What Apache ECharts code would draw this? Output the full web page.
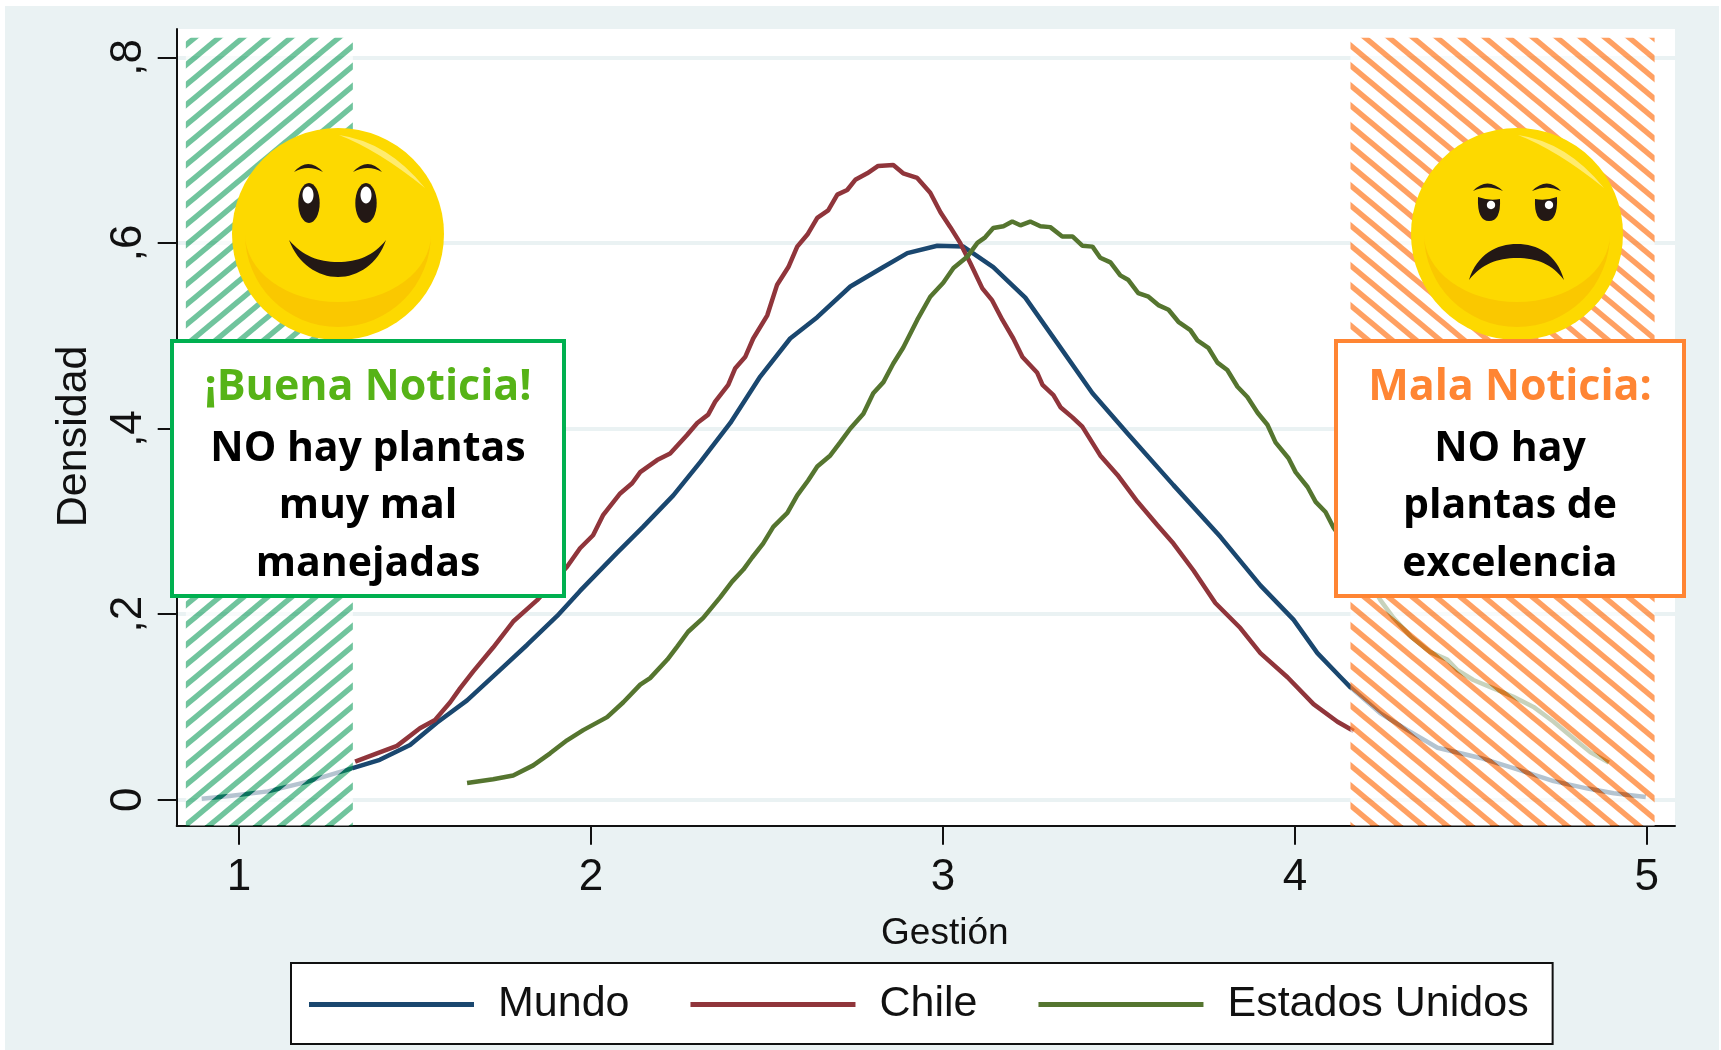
<!DOCTYPE html>
<html>
<head>
<meta charset="utf-8">
<title>Densidad de Gestión</title>
<script src="https://cdn.jsdelivr.net/npm/echarts@6/dist/echarts.min.js"></script>
<style>
  html, body { margin: 0; padding: 0; background: #fff; }
  #bg { position: absolute; left: 5px; top: 6px; width: 1714px; height: 1044px; background: #eaf2f3; }
  #chart { position: absolute; left: 0; top: 0; width: 1721px; height: 1050px; }
</style>
</head>
<body>
<div id="bg"></div>
<div id="chart"></div>
<script>
  // valores
  const xTicks = [1, 2, 3, 4, 5];
  const yTicks = [0, 0.2, 0.4, 0.6, 0.8];
  const yTickLabels = ['0', ',2', ',4', ',6', ',8'];
  const seriesNames = ['Mundo', 'Chile', 'Estados Unidos'];

  const mundoX = [0.894, 0.973, 1.082, 1.19, 1.323, 1.40, 1.486, 1.562, 1.648, 1.742, 1.819, 1.904, 1.969, 2.074, 2.148, 2.234, 2.311, 2.396, 2.481, 2.566, 2.643, 2.737, 2.831, 2.899, 2.984, 3.058, 3.143, 3.234, 3.325, 3.425, 3.524, 3.655, 3.789, 3.902, 3.996, 4.064, 4.130, 4.158, 4.243, 4.320, 4.405, 4.527, 4.621, 4.735, 4.832, 4.906, 4.997];
  const mundoY = [0.001, 0.004, 0.009, 0.019, 0.034, 0.043, 0.059, 0.083, 0.107, 0.140, 0.167, 0.198, 0.225, 0.266, 0.294, 0.328, 0.364, 0.406, 0.456, 0.497, 0.520, 0.553, 0.574, 0.589, 0.597, 0.596, 0.574, 0.541, 0.492, 0.438, 0.395, 0.339, 0.283, 0.231, 0.194, 0.158, 0.132, 0.121, 0.093, 0.075, 0.056, 0.045, 0.034, 0.020, 0.012, 0.007, 0.003];

  const chileX = [1.330, 1.392, 1.449, 1.514, 1.557, 1.600, 1.628, 1.665, 1.722, 1.779, 1.847, 1.932, 1.969, 2.006, 2.035, 2.083, 2.117, 2.140, 2.188, 2.225, 2.273, 2.302, 2.333, 2.353, 2.390, 2.410, 2.438, 2.461, 2.501, 2.529, 2.561, 2.586, 2.615, 2.643, 2.674, 2.700, 2.728, 2.751, 2.785, 2.816, 2.859, 2.887, 2.927, 2.964, 2.993, 3.021, 3.049, 3.078, 3.112, 3.140, 3.169, 3.200, 3.226, 3.268, 3.283, 3.314, 3.334, 3.368, 3.396, 3.447, 3.496, 3.553, 3.609, 3.655, 3.712, 3.774, 3.845, 3.902, 3.979, 4.053, 4.121, 4.167];
  const chileY = [0.041, 0.050, 0.058, 0.077, 0.086, 0.105, 0.120, 0.138, 0.164, 0.192, 0.215, 0.251, 0.271, 0.285, 0.307, 0.330, 0.341, 0.353, 0.366, 0.373, 0.393, 0.406, 0.415, 0.429, 0.447, 0.465, 0.477, 0.497, 0.522, 0.555, 0.574, 0.596, 0.609, 0.627, 0.635, 0.652, 0.657, 0.668, 0.675, 0.683, 0.684, 0.675, 0.670, 0.654, 0.633, 0.617, 0.600, 0.578, 0.551, 0.538, 0.517, 0.497, 0.477, 0.460, 0.447, 0.436, 0.423, 0.412, 0.402, 0.371, 0.350, 0.321, 0.296, 0.276, 0.247, 0.212, 0.185, 0.158, 0.132, 0.103, 0.084, 0.074];

  const usaX = [1.648, 1.722, 1.779, 1.836, 1.884, 1.932, 1.978, 2.046, 2.092, 2.140, 2.168, 2.217, 2.245, 2.276, 2.319, 2.367, 2.401, 2.433, 2.458, 2.489, 2.518, 2.558, 2.586, 2.617, 2.643, 2.680, 2.708, 2.737, 2.774, 2.802, 2.831, 2.859, 2.887, 2.927, 2.964, 3.001, 3.030, 3.069, 3.098, 3.120, 3.143, 3.172, 3.197, 3.220, 3.248, 3.277, 3.305, 3.339, 3.368, 3.396, 3.425, 3.447, 3.476, 3.504, 3.527, 3.555, 3.584, 3.612, 3.641, 3.669, 3.703, 3.723, 3.754, 3.780, 3.808, 3.837, 3.865, 3.894, 3.922, 3.945, 3.982, 4.002, 4.036, 4.059, 4.087, 4.110, 4.186, 4.243, 4.280, 4.329, 4.385, 4.433, 4.461, 4.507, 4.564, 4.621, 4.678, 4.735, 4.792, 4.840, 4.892];
  const usaY = [0.018, 0.022, 0.026, 0.037, 0.050, 0.064, 0.075, 0.089, 0.105, 0.124, 0.131, 0.151, 0.165, 0.181, 0.196, 0.218, 0.235, 0.248, 0.261, 0.276, 0.294, 0.309, 0.328, 0.344, 0.359, 0.371, 0.385, 0.400, 0.416, 0.438, 0.450, 0.470, 0.487, 0.517, 0.542, 0.557, 0.573, 0.585, 0.600, 0.606, 0.616, 0.618, 0.623, 0.619, 0.623, 0.618, 0.617, 0.607, 0.607, 0.597, 0.596, 0.584, 0.579, 0.565, 0.560, 0.546, 0.542, 0.533, 0.528, 0.515, 0.506, 0.495, 0.487, 0.471, 0.463, 0.445, 0.434, 0.417, 0.404, 0.385, 0.368, 0.353, 0.337, 0.321, 0.310, 0.293, 0.253, 0.215, 0.196, 0.176, 0.159, 0.151, 0.140, 0.129, 0.120, 0.111, 0.100, 0.084, 0.066, 0.051, 0.040];

  // bandas: [x0, x1, y0, y1]
  const bandBuena = [0.849, 1.3235, -0.028, 0.821];
  const bandMala = [4.158, 5.022, -0.028, 0.821];

  const font = '"Liberation Sans", Arial, sans-serif';
  const boxFont = '"Open Sans", Lato, sans-serif';
  const navy = '#1a476f', maroon = '#90353b', green = '#55752f';

  function zip (xs, ys) {
    return xs.map((x, i) => [x, ys[i]]);
  }

  // tile del rayado: fondo blanco translucido y raya recortada encima
  function hatch (color, rising) {
    const w = 24, h = 20, stripe = 5.5;
    const c = document.createElement('canvas');
    c.width = w; c.height = h;
    const g = c.getContext('2d');
    g.fillStyle = 'rgba(255,255,255,0.68)';
    g.fillRect(0, 0, w, h);
    const draw = () => {
      for (let k = -1; k <= 1; k++) {
        g.beginPath();
        if (rising) {
          g.moveTo(k * w - w, 2 * h);
          g.lineTo(k * w + 2 * w, -h);
        } else {
          g.moveTo(k * w - w, -h);
          g.lineTo(k * w + 2 * w, 2 * h);
        }
        g.stroke();
      }
    };
    g.lineWidth = stripe;
    g.globalCompositeOperation = 'destination-out';
    g.strokeStyle = '#000';
    draw();
    g.globalCompositeOperation = 'source-over';
    g.strokeStyle = color;
    draw();
    return c;
  }
  const greenHatch = hatch('rgba(0,150,80,0.56)', true);
  const orangeHatch = hatch('rgba(255,125,40,0.73)', false);

  function bandSeries (band, tile) {
    return {
      type: 'custom',
      silent: true,
      z: 40,
      clip: false,
      data: [band],
      encode: { x: [0, 1], y: [2, 3] },
      renderItem: (params, api) => {
        const a = api.coord([api.value(0), api.value(3)]);
        const b = api.coord([api.value(1), api.value(2)]);
        return {
          type: 'rect',
          shape: { x: a[0], y: a[1], width: b[0] - a[0], height: b[1] - a[1] },
          style: { fill: { image: tile, repeat: 'repeat' } }
        };
      }
    };
  }

  function pathEl (d, fill) {
    return { type: 'path', shape: { pathData: d }, style: { fill: fill } };
  }
  function ellipseEl (cx, cy, rx, ry, fill) {
    return { type: 'ellipse', shape: { cx: cx, cy: cy, rx: rx, ry: ry }, style: { fill: fill } };
  }

  function faceBase () {
    return [
      { type: 'circle', shape: { cx: 0, cy: 0, r: 106 }, style: { fill: '#fdd900' } },
      pathEl('M-93,0 A93,93 0 0 0 93,0 A93,68 0 0 1 -93,0 Z', '#fac800'),
      pathEl('M1,-99 Q50,-92 87,-46 Q40,-84 1,-99 Z', '#ffec6e')
    ];
  }
  const ink = '#231815';
  const smileParts = faceBase().concat([
    ellipseEl(-29, -31, 10.7, 20, ink),
    ellipseEl(28, -31, 10.7, 20, ink),
    ellipseEl(-30, -39, 5.5, 8.5, '#fff'),
    ellipseEl(28, -39, 5.5, 8.5, '#fff'),
    pathEl('M-44,-62 Q-30,-78 -15,-62 Q-30,-70 -44,-62 Z', ink),
    pathEl('M15,-62 Q30,-78 44,-62 Q30,-70 15,-62 Z', ink),
    pathEl('M-49,6 C-40,30 -20,43 0,43 C20,43 40,30 48,6 C35,22 20,28 0,28 C-20,28 -35,22 -49,6 Z', ink)
  ]);
  const sadParts = faceBase().concat([
    pathEl('M-39,-37 Q-28,-33 -17,-35 Q-16,-13 -28,-13 Q-40,-13 -39,-37 Z', ink),
    pathEl('M18,-35 Q29,-33 40,-37 Q41,-13 29,-13 Q17,-13 18,-35 Z', ink),
    ellipseEl(-26, -29, 4.2, 4.2, '#fff'),
    ellipseEl(32, -29, 4.2, 4.2, '#fff'),
    pathEl('M-44,-43 Q-30,-58 -14,-43 Q-30,-50 -44,-43 Z', ink),
    pathEl('M15,-43 Q30,-58 44,-43 Q30,-50 15,-43 Z', ink),
    pathEl('M-48,46 C-40,20 -20,10 0,10 C20,10 40,20 47,46 C35,30 20,24 0,24 C-20,24 -35,30 -48,46 Z', ink)
  ]);

  function faceSeries (cx, cy, parts) {
    return {
      type: 'custom',
      coordinateSystem: 'none',
      silent: true,
      z: 50,
      data: [[0]],
      renderItem: () => ({ type: 'group', x: cx, y: cy, children: parts })
    };
  }

  function boxText (cx, middle, text, color, size) {
    return {
      type: 'text',
      z: 101,
      x: cx,
      y: middle,
      style: {
        text: text,
        fill: color,
        font: '700 ' + size + 'px ' + boxFont,
        textAlign: 'center',
        textVerticalAlign: 'middle'
      }
    };
  }

  function newsBox (x, w, cx, color, titleColor, lines) {
    const rows = [388, 449, 506, 564];
    return [
      {
        type: 'rect',
        z: 100,
        shape: { x: x, y: 341, width: w, height: 255 },
        style: { fill: '#fff', stroke: color, lineWidth: 4 }
      }
    ].concat(lines.map((t, i) => boxText(cx, rows[i], t, i === 0 ? titleColor : '#000', i === 0 ? 43 : 41)));
  }

  const lineDefaults = {
    type: 'line',
    showSymbol: false,
    symbol: 'none',
    smooth: false,
    z: 10
  };

  const option = {
    animation: false,
    grid: {
      left: 176.7,
      right: 46,
      top: 29,
      bottom: 224.3,
      show: true,
      backgroundColor: '#fff',
      borderWidth: 0
    },
    xAxis: {
      type: 'value',
      min: 0.823,
      max: 5.08,
      name: 'Gestión',
      nameLocation: 'middle',
      nameGap: 90,
      nameMoveOverlap: false,
      nameTextStyle: { color: '#111', fontFamily: font, fontSize: 37, padding: [0, 0, 0, 38] },
      axisLine: { show: true, onZero: false, lineStyle: { color: '#111', width: 2 } },
      axisTick: { show: true, length: 19, customValues: xTicks, lineStyle: { color: '#111', width: 2 } },
      axisLabel: { customValues: xTicks, color: '#111', fontFamily: font, fontSize: 44, margin: 30, showMinLabel: true, showMaxLabel: true },
      splitLine: { show: false }
    },
    yAxis: {
      type: 'value',
      min: -0.028,
      max: 0.8305,
      name: 'Densidad',
      nameLocation: 'middle',
      nameGap: 81,
      nameMoveOverlap: false,
      nameTextStyle: { color: '#111', fontFamily: font, fontSize: 43, padding: [0, 18, 0, 0] },
      axisLine: { show: true, onZero: false, lineStyle: { color: '#111', width: 2 } },
      axisTick: { show: true, length: 19, customValues: yTicks, lineStyle: { color: '#111', width: 2 } },
      axisLabel: {
        customValues: yTicks,
        rotate: 90,
        color: '#111',
        fontFamily: font,
        fontSize: 44,
        margin: 26,
        formatter: (v) => yTickLabels[yTicks.indexOf(v)]
      },
      splitLine: { show: true, customValues: yTicks, lineStyle: { color: '#eaf2f3', width: 4 } }
    },
    legend: {
      data: seriesNames.map((name, i) => ({ name: name, icon: 'rect', itemStyle: { color: [navy, maroon, green][i] } })),
      selectedMode: false,
      left: 291,
      top: 963,
      orient: 'horizontal',
      padding: [20, 24, 18, 18],
      itemWidth: 165,
      itemHeight: 5,
      itemGap: 61,
      backgroundColor: '#fff',
      borderColor: '#111',
      borderWidth: 2,
      textStyle: { color: '#111', fontFamily: font, fontSize: 43, padding: [6, 0, 0, 19] }
    },
    series: [
      Object.assign({ name: seriesNames[0], data: zip(mundoX, mundoY), lineStyle: { color: navy, width: 4.5 }, itemStyle: { color: navy } }, lineDefaults),
      Object.assign({ name: seriesNames[1], data: zip(chileX, chileY), lineStyle: { color: maroon, width: 4.5 }, itemStyle: { color: maroon } }, lineDefaults),
      Object.assign({ name: seriesNames[2], data: zip(usaX, usaY), lineStyle: { color: green, width: 4.5 }, itemStyle: { color: green } }, lineDefaults),
      bandSeries(bandBuena, greenHatch),
      bandSeries(bandMala, orangeHatch),
      faceSeries(338, 234, smileParts),
      faceSeries(1517, 234, sadParts)
    ],
    graphic: newsBox(172, 392, 368, '#00b050', '#56b317', ['¡Buena Noticia!', 'NO hay plantas', 'muy mal', 'manejadas'])
      .concat(newsBox(1336, 348, 1510, '#ff8533', '#ff8533', ['Mala Noticia:', 'NO hay', 'plantas de', 'excelencia']))
  };

  const chart = echarts.init(document.getElementById('chart'));
  chart.setOption(option);
</script>
</body>
</html>
